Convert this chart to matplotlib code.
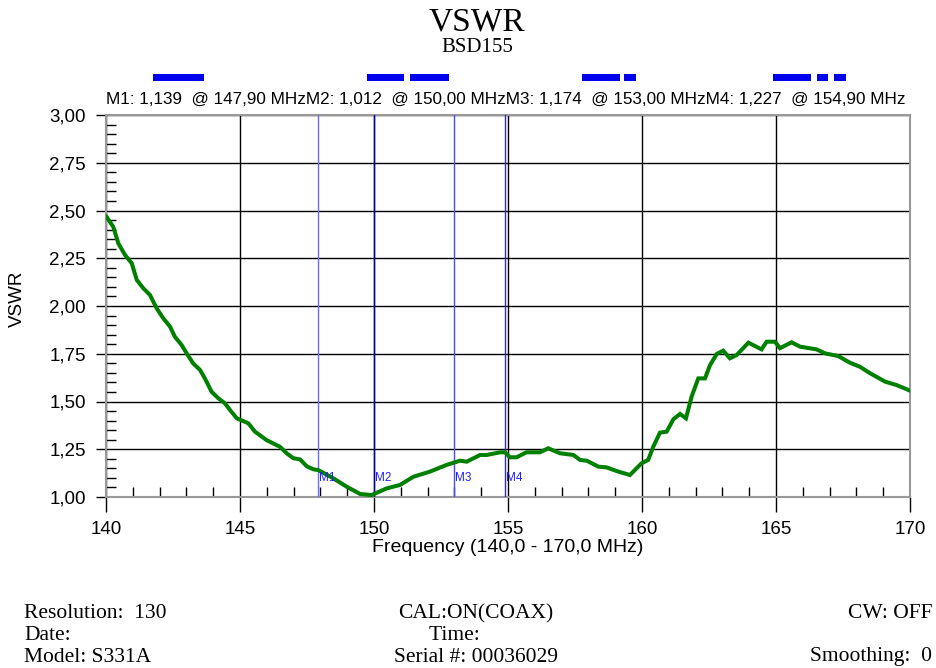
import matplotlib
matplotlib.use('Agg')
import matplotlib.pyplot as plt
from matplotlib.patches import Rectangle
from matplotlib.ticker import MultipleLocator, FuncFormatter

# measured trace (MHz, VSWR)
freq = [140.02, 140.27, 140.46, 140.71, 140.96, 141.15, 141.39, 141.64, 141.89, 142.14,
        142.39, 142.57, 142.82, 143.01, 143.25, 143.51, 143.69, 143.94, 144.19, 144.44,
        144.63, 144.88, 145.31, 145.56, 145.99, 146.49, 146.74, 146.99, 147.24, 147.50,
        147.74, 147.92, 148.48, 148.98, 149.48, 149.91, 150.47, 150.97, 151.47, 152.09,
        152.71, 153.21, 153.46, 153.96, 154.21, 154.70, 154.89, 155.07, 155.32, 155.69,
        156.19, 156.50, 156.94, 157.44, 157.69, 157.94, 158.37, 158.68, 159.05, 159.55,
        159.98, 160.23, 160.42, 160.67, 160.92, 161.17, 161.42, 161.64, 161.85, 162.10,
        162.35, 162.54, 162.79, 163.03, 163.28, 163.53, 163.97, 164.46, 164.65, 164.96,
        165.15, 165.58, 165.90, 166.51, 166.83, 167.32, 167.76, 168.13, 168.51, 169.07,
        169.50, 170.00]
vswr = [2.467, 2.415, 2.328, 2.267, 2.224, 2.136, 2.093, 2.058, 1.988, 1.935,
        1.892, 1.839, 1.796, 1.752, 1.700, 1.665, 1.621, 1.551, 1.517, 1.490,
        1.455, 1.412, 1.386, 1.342, 1.298, 1.263, 1.229, 1.203, 1.197, 1.160,
        1.145, 1.141, 1.098, 1.054, 1.016, 1.010, 1.045, 1.063, 1.106, 1.133,
        1.168, 1.190, 1.185, 1.220, 1.220, 1.234, 1.234, 1.208, 1.208, 1.234,
        1.234, 1.255, 1.229, 1.220, 1.194, 1.190, 1.159, 1.155, 1.136, 1.115,
        1.176, 1.194, 1.263, 1.337, 1.342, 1.407, 1.435, 1.412, 1.525, 1.621,
        1.621, 1.691, 1.749, 1.766, 1.726, 1.743, 1.808, 1.773, 1.813, 1.813,
        1.779, 1.810, 1.787, 1.773, 1.752, 1.738, 1.703, 1.682, 1.648, 1.604,
        1.586, 1.557]

marker_names = ['M1', 'M2', 'M3', 'M4']
marker_freq = [147.90, 150.00, 153.00, 154.90]
marker_val = [1.139, 1.012, 1.174, 1.227]
marker_colors = ['#6b6bff', '#0000b0', '#4a4aff', '#3030c0']

# blue indicator segments above the plot (MHz)
segments = [(141.75, 143.66), (149.74, 151.12), (151.34, 152.80), (157.76, 159.18),
            (159.33, 159.78), (164.89, 166.31), (166.53, 166.94), (167.16, 167.61)]

footer_left = ['Resolution:  130', 'Date:', 'Model: S331A']
footer_mid = ['CAL:ON(COAX)', 'Time:        ', 'Serial #: 00036029']
footer_right = ['CW: OFF', '', 'Smoothing:  0']

W, H = 936, 668
fig = plt.figure(figsize=(W / 100, H / 100), dpi=100)
ax = fig.add_axes([106 / W, 1 - 497 / H, 804 / W, 382 / H])

ax.plot(freq, vswr, color='#008000', lw=2.9, solid_joinstyle='miter', zorder=4)

ax.set_xlim(140, 170)
ax.set_ylim(1.0, 3.0)
ax.xaxis.set_major_locator(MultipleLocator(5))
ax.xaxis.set_minor_locator(MultipleLocator(1))
ax.yaxis.set_major_locator(MultipleLocator(0.25))
ax.yaxis.set_minor_locator(MultipleLocator(0.05))
ax.yaxis.set_major_formatter(FuncFormatter(lambda v, p: f'{v:.2f}'.replace('.', ',')))
ax.grid(True, which='major', color='black', lw=1.0)
ax.xaxis.set_tick_params(which='major', direction='out', length=11, width=1, color='black',
                         labelsize=13.5, pad=6)
ax.yaxis.set_tick_params(which='major', direction='out', length=7.5, width=1, color='black',
                         labelsize=13.5, pad=7)
ax.tick_params(which='minor', direction='in', length=7.5, width=1, color='black')
for lab in ax.get_xticklabels() + ax.get_yticklabels():
    lab.set_fontfamily('Liberation Sans')
for s in ax.spines.values():
    s.set_color('#999999')
    s.set_linewidth(1.5)

ax.set_xlabel('Frequency (140,0 - 170,0 MHz)', fontsize=14, family='Liberation Sans', labelpad=1)
ax.set_ylabel('VSWR', fontsize=13.5, family='Liberation Sans')
ax.yaxis.set_label_coords(-80 / 804, 0.52)

# marker lines
for name, f, c in zip(marker_names, marker_freq, marker_colors):
    ax.axvline(f, color=c, lw=1.0, zorder=3)
    ax.text(f + 0.03, 1.10, name, color='#2020ff', fontsize=8.5, family='Liberation Sans',
            ha='left', va='center', zorder=5)

# marker readout line
readout = ''.join(f'{n}: {v:.3f}  @ {f:.2f} MHz'.replace('.', ',')
                  for n, v, f in zip(marker_names, marker_val, marker_freq))
ax.text(0.0, 1.022, readout, transform=ax.transAxes, fontsize=12.3,
        family='Liberation Sans', ha='left', va='bottom')

for x0, x1 in segments:
    ax.add_patch(Rectangle((x0, 1.09), x1 - x0, 0.017, transform=ax.get_xaxis_transform(),
                           clip_on=False, facecolor='#0000ee', edgecolor='none'))

fig.text(477 / W, 1 - 22 / H, 'VSWR', fontsize=24, family='Liberation Serif', ha='center', va='center')
fig.text(477 / W, 1 - 47 / H, 'BSD155', fontsize=15, family='Liberation Serif', ha='center', va='center')

rows_y = [614, 636, 657]
for y, a, b, c in zip(rows_y, footer_left, footer_mid, footer_right):
    fig.text(24 / W, 1 - y / H, a, fontsize=15.5, family='Liberation Serif', ha='left', va='center')
    fig.text(476 / W, 1 - y / H, b, fontsize=15.5, family='Liberation Serif', ha='center', va='center')
    fig.text(932 / W, 1 - y / H, c, fontsize=15.5, family='Liberation Serif', ha='right', va='center')

fig.savefig('out.png', dpi=100)
